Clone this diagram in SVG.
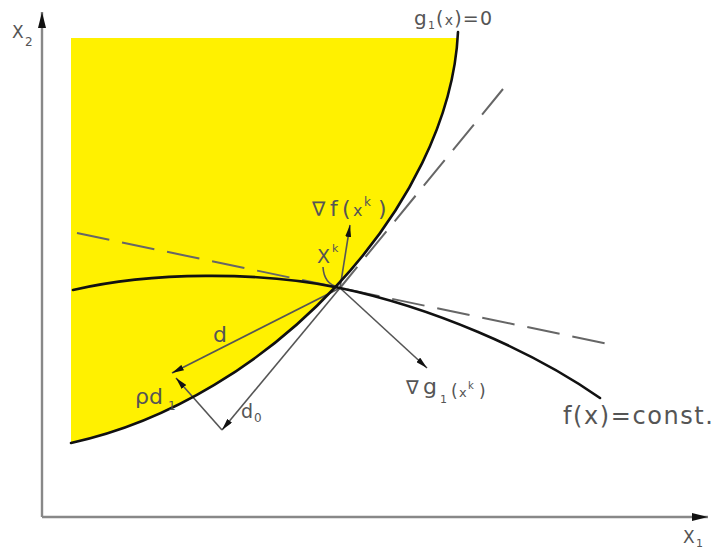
<svg xmlns="http://www.w3.org/2000/svg" width="716" height="551" viewBox="0 0 716 551">
<style>
.t{font-family:"DejaVu Sans","Liberation Sans",sans-serif;fill:#555}
.curve{fill:none;stroke:#111;stroke-width:2.6;stroke-linecap:round}
.vec{fill:none;stroke:#555;stroke-width:1.6}
.dash{fill:none;stroke:#666;stroke-width:2;stroke-dasharray:33 13}
.axis{fill:none;stroke:#888;stroke-width:2.4}
</style>
<defs>
<marker id="ah" viewBox="0 0 12 6" refX="12" refY="3" markerWidth="12" markerHeight="6" orient="auto" markerUnits="userSpaceOnUse"><path d="M0,0 L12,3 L0,6 Z" fill="#111"/></marker>
<marker id="ax" viewBox="0 0 16 8" refX="16" refY="4" markerWidth="16" markerHeight="8" orient="auto" markerUnits="userSpaceOnUse"><path d="M0,0 L16,4 L0,8 Z" fill="#111"/></marker>
<clipPath id="clipY"><rect x="71" y="38" width="420" height="420"/></clipPath>
</defs>
<g id="feasible-region">
<path d="M71,443 C270,400 450,205 458,32 L71,32 Z" fill="#FFF100" clip-path="url(#clipY)"/>
</g>
<g id="axes">
<line class="axis" x1="42" y1="517" x2="42" y2="12" marker-end="url(#ax)"/>
<line class="axis" x1="42" y1="517" x2="708" y2="517" marker-end="url(#ax)"/>
<text class="t" x="12" y="38" font-size="17">X</text>
<text class="t" x="25" y="46" font-size="12">2</text>
<text class="t" x="683" y="543" font-size="17">X</text>
<text class="t" x="696" y="547" font-size="11">1</text>
</g>
<g id="connectors">
<line class="dash" x1="77" y1="233" x2="613" y2="345"/>
<line class="dash" x1="503" y1="89" x2="340" y2="288"/>
<line class="vec" x1="340" y1="288" x2="350" y2="225" marker-end="url(#ah)"/>
<line class="vec" x1="340" y1="288" x2="172" y2="373" marker-end="url(#ah)"/>
<line class="vec" x1="340" y1="288" x2="427" y2="368" marker-end="url(#ah)"/>
<line class="vec" x1="340" y1="288" x2="222" y2="430" marker-end="url(#ah)"/>
<line class="vec" x1="222" y1="430" x2="176" y2="378" marker-end="url(#ah)"/>
<path class="vec" d="M323,267 Q324,284 338,287"/>
</g>
<g id="curve-g1">
<path class="curve" d="M71,443 C270,400 450,205 458,32"/>
<text class="t" x="414" y="25" font-size="20" letter-spacing="1.2">g<tspan font-size="11" dy="4">1</tspan><tspan dy="-4" font-size="19">(</tspan><tspan font-size="14">x</tspan><tspan font-size="19">)=0</tspan></text>
</g>
<g id="curve-f">
<path class="curve" d="M73,290 C150,272 260,271 340,288 C430,307 530,349 600,398"/>
<text class="t" x="563" y="424" font-size="24" textLength="150" lengthAdjust="spacing">f(x)=const.</text>
</g>
<g id="point-xk">
<text class="t" x="317" y="263" font-size="19">X</text>
<text class="t" x="332" y="252" font-size="11">k</text>
</g>
<g id="grad-f">
<text class="t" y="216" font-size="22"><tspan x="312" font-size="20">∇</tspan><tspan x="330">f</tspan><tspan x="342">(</tspan><tspan x="353" font-size="16">x</tspan><tspan x="378">)</tspan></text>
<text class="t" x="364" y="206" font-size="12">k</text>
</g>
<g id="grad-g1">
<text class="t" x="406" y="394" font-size="19">∇</text>
<text class="t" x="423" y="394" font-size="22">g</text>
<text class="t" x="440" y="403" font-size="11">1</text>
<text class="t" y="397" font-size="17"><tspan x="451">(</tspan><tspan x="459" font-size="13">x</tspan><tspan x="479">)</tspan></text>
<text class="t" x="468" y="389" font-size="10">k</text>
</g>
<g id="dir-d">
<text class="t" x="213" y="342" font-size="22">d</text>
</g>
<g id="dir-pd1">
<text class="t" x="135" y="404" font-size="22">ρd</text>
<text class="t" x="168" y="410" font-size="12">1</text>
</g>
<g id="dir-d0">
<text class="t" x="241" y="418" font-size="19">d</text>
<text class="t" x="254" y="422" font-size="12">0</text>
</g>
</svg>
